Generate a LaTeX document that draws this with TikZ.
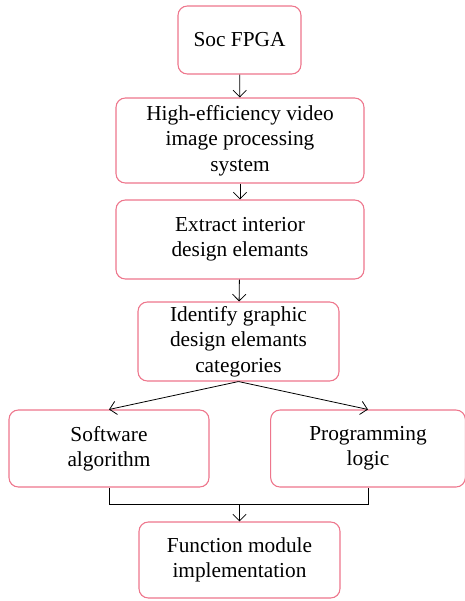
\documentclass[tikz,border=0pt]{standalone}
\usepackage{fontspec}
\setmainfont{Liberation Serif}
\usetikzlibrary{positioning,arrows.meta}
\definecolor{boxline}{RGB}{238,118,140}
\tikzset{
  stepbox/.style={rectangle, rounded corners=7pt, draw=boxline, line width=0.8pt,
    fill=white, align=center, inner sep=2pt,
    font=\fontsize{16}{19}\selectfont},
  flow/.style={-{Straight Barb[length=5pt,width=10pt]}, line width=0.6pt}
}
\begin{document}
\begin{tikzpicture}[x=0.75pt, y=-0.75pt]
  \useasboundingbox (0,0) rectangle (465,601);
  \node [stepbox, minimum width=92.25pt, minimum height=51pt] (soc) at (239.5,40) {Soc FPGA};
  \node [stepbox, minimum width=186pt, minimum height=63.75pt] (video) at (240,140.5)
    {High-efficiency video\\image processing\\system};
  \node [stepbox, minimum width=186pt, minimum height=59.25pt] (extract) at (240,239.5)
    {Extract interior\\design elemants};
  \node [stepbox, minimum width=150.75pt, minimum height=59.25pt] (identify) at (238.5,341.5)
    {Identify graphic\\design elemants\\categories};
  \node [stepbox, minimum width=150pt, minimum height=57.75pt] (software) at (109,448.5)
    {Software\\algorithm};
  \node [stepbox, minimum width=146pt, minimum height=57.75pt] (logic) at (368,448.5)
    {Programming\\logic};
  \node [stepbox, minimum width=150.75pt, minimum height=57pt] (module) at (239.5,560)
    {Function module\\implementation};
  \coordinate (merge) at (239.5,504);

  \draw [flow] (soc) -- (video);
  \draw [flow] (video) -- (extract);
  \draw [flow] (extract) -- (identify);
  \draw [flow] (identify.south) -- (software.north);
  \draw [flow] (identify.south) -- (logic.north);
  \draw [line width=0.6pt] (software.south) -- (software.south |- merge) -| (logic.south);
  \draw [flow] (merge) -- (module.north);
\end{tikzpicture}
\end{document}
